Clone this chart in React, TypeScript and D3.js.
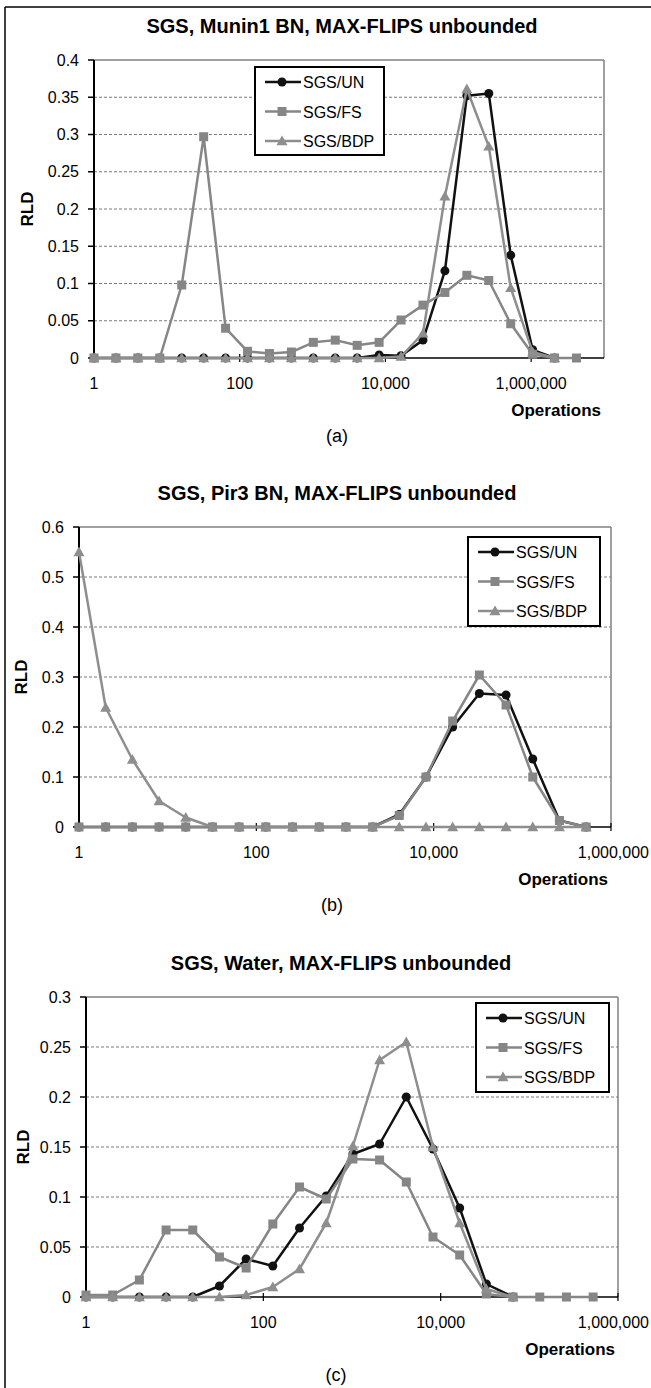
import React from 'react'
import * as d3 from 'd3'

// operation counts (x categories, log scale)
const ops = [1, 2, 4, 8, 16, 32, 64, 128, 256, 512, 1024, 2048, 4096, 8192, 16384, 32768, 65536, 131072, 262144, 524288, 1048576, 2097152, 4194304]
const seriesNames = ['SGS/UN', 'SGS/FS', 'SGS/BDP']
const xTickValues = [1, 100, 10000, 1000000]

// (a) Munin1
const muninUN = [0, 0, 0, 0, 0, 0, 0, 0, 0, 0, 0, 0, 0, 0.004, 0.003, 0.024, 0.117, 0.352, 0.355, 0.138, 0.011, 0]
const muninFS = [0, 0, 0, 0, 0.098, 0.297, 0.04, 0.009, 0.006, 0.008, 0.021, 0.024, 0.017, 0.021, 0.051, 0.071, 0.088, 0.111, 0.104, 0.046, 0.005, 0, 0]
const muninBDP = [0, 0, 0, 0, 0, 0, 0, 0, 0, 0, 0, 0, 0, 0, 0.002, 0.033, 0.217, 0.361, 0.284, 0.094, 0.008, 0]

// (b) Pir3
const pirUN = [0, 0, 0, 0, 0, 0, 0, 0, 0, 0, 0, 0, 0.025, 0.1, 0.2, 0.267, 0.264, 0.136, 0.013, 0]
const pirFS = [0, 0, 0, 0, 0, 0, 0, 0, 0, 0, 0, 0, 0.023, 0.1, 0.212, 0.304, 0.244, 0.1, 0.013, 0]
const pirBDP = [0.55, 0.239, 0.135, 0.052, 0.019, 0, 0, 0, 0, 0, 0, 0, 0, 0, 0, 0, 0, 0, 0, 0]

// (c) Water
const waterUN = [0, 0, 0, 0, 0, 0.011, 0.038, 0.031, 0.069, 0.101, 0.143, 0.153, 0.2, 0.148, 0.089, 0.013, 0]
const waterFS = [0.002, 0.002, 0.017, 0.067, 0.067, 0.04, 0.029, 0.073, 0.11, 0.098, 0.138, 0.137, 0.115, 0.06, 0.042, 0.003, 0, 0, 0, 0]
const waterBDP = [0, 0, 0, 0, 0, 0, 0.002, 0.01, 0.028, 0.074, 0.151, 0.237, 0.255, 0.15, 0.074, 0.008, 0]

const FONT = '"Liberation Sans", Arial, Helvetica, sans-serif'
const colors = ['#111111', '#868686', '#8e8e8e']
const markers = ['circle', 'square', 'triangle']
const W = 651

function Marker({ kind, x, y, color }: { kind: string; x: number; y: number; color: string }) {
  if (kind === 'circle') return <circle cx={x} cy={y} r={4.5} fill={color} />
  if (kind === 'square') return <rect x={x - 4.5} y={y - 4.5} width={9} height={9} fill={color} />
  const s = 5.5
  return <path d={`M${x},${y - s}L${x + s},${y + s * 0.75}L${x - s},${y + s * 0.75}Z`} fill={color} />
}

type PanelProps = {
  title: string
  caption: string
  data: number[][]
  xMax: number
  yMax: number
  yStep: number
  plot: { l: number; r: number; t: number; b: number }
  titleX: number
  legend: { x: number; y: number; w: number; h: number }
  rldX: number
}

function Panel({ title, caption, data, xMax, yMax, yStep, plot, titleX, legend, rldX }: PanelProps) {
  const x = d3.scaleLog().domain([1, xMax]).range([plot.l, plot.r])
  const y = d3.scaleLinear().domain([0, yMax]).range([plot.b, plot.t])
  const yTicks = d3.range(0, yMax + yStep / 2, yStep)
  const fmtY = (v: number) => String(+v.toFixed(2))
  const fmtX = d3.format(',')
  const line = d3.line<number>().x((_, i) => x(ops[i])).y(d => y(d))

  return (
    <g>
      <text x={titleX} y={plot.t - 27} textAnchor="middle" fontFamily={FONT} fontWeight="bold" fontSize={20}>{title}</text>
      {/* grid */}
      {yTicks.slice(1, -1).map(v => (
        <line key={v} x1={plot.l} x2={plot.r} y1={y(v)} y2={y(v)} stroke="#7a7a7a" strokeWidth={1} strokeDasharray="3,2" />
      ))}
      <line x1={plot.l} x2={plot.r} y1={plot.t} y2={plot.t} stroke="#808080" strokeWidth={1.5} />
      <line x1={plot.r} x2={plot.r} y1={plot.t} y2={plot.b} stroke="#808080" strokeWidth={1.5} />
      {/* y axis */}
      <line x1={plot.l} x2={plot.l} y1={plot.t} y2={plot.b} stroke="#000" strokeWidth={2} />
      {yTicks.map(v => (
        <g key={v}>
          <line x1={plot.l - 6} x2={plot.l} y1={y(v)} y2={y(v)} stroke="#000" strokeWidth={1.5} />
          <text x={plot.l - 15} y={y(v) + 5.5} textAnchor="end" fontFamily={FONT} fontSize={16}>{fmtY(v)}</text>
        </g>
      ))}
      {/* x axis */}
      <line x1={plot.l} x2={plot.r} y1={plot.b} y2={plot.b} stroke="#000" strokeWidth={1.5} />
      {xTickValues.filter(v => v <= xMax).map(v => {
        const label = fmtX(v)
        const half = label.length * 4.6
        const atEdge = x(v) + half > W - 2
        return (
          <g key={v}>
            <line x1={x(v)} x2={x(v)} y1={plot.b - 4} y2={plot.b + 4} stroke="#000" strokeWidth={1.2} />
            <text x={atEdge ? W - 2 : x(v)} y={plot.b + 31} textAnchor={atEdge ? 'end' : 'middle'} fontFamily={FONT} fontSize={16}>{label}</text>
          </g>
        )
      })}
      <text x={plot.r - 3} y={plot.b + 58} textAnchor="end" fontFamily={FONT} fontWeight="bold" fontSize={17}>Operations</text>
      <text x={titleX - 5} y={plot.b + 84} textAnchor="middle" fontFamily={FONT} fontSize={18}>{caption}</text>
      <text transform={`translate(${rldX},${(plot.t + plot.b) / 2}) rotate(-90)`} textAnchor="middle" fontFamily={FONT} fontWeight="bold" fontSize={17}>RLD</text>
      {/* series */}
      {data.map((vals, si) => (
        <g key={si}>
          <path d={line(vals) || ''} fill="none" stroke={colors[si]} strokeWidth={2.5} strokeLinejoin="round" />
          {vals.map((v, i) => (
            <Marker key={i} kind={markers[si]} x={x(ops[i])} y={y(v)} color={colors[si]} />
          ))}
        </g>
      ))}
      {/* legend */}
      <rect x={legend.x} y={legend.y} width={legend.w} height={legend.h} fill="#fff" stroke="#000" strokeWidth={2} />
      {seriesNames.map((name, i) => {
        const cy = legend.y + 15 + i * 29.5
        return (
          <g key={name}>
            <line x1={legend.x + 10} x2={legend.x + 46} y1={cy} y2={cy} stroke={colors[i]} strokeWidth={2.5} />
            <Marker kind={markers[i]} x={legend.x + 27} y={cy} color={colors[i]} />
            <text x={legend.x + 48} y={cy + 6} fontFamily={FONT} fontSize={16}>{name}</text>
          </g>
        )
      })}
    </g>
  )
}

export default function App() {
  return (
    <svg width={651} height={1388} style={{ position: 'absolute', left: 0, top: 0, background: '#fff' }}>
      <rect x={0} y={0} width={651} height={1388} fill="#fff" />
      <line x1={5} x2={651} y1={7} y2={7} stroke="#000" strokeWidth={1.5} />
      <line x1={5} x2={5} y1={7} y2={1388} stroke="#000" strokeWidth={1.5} />
      <Panel
        title="SGS, Munin1 BN, MAX-FLIPS unbounded"
        caption="(a)"
        data={[muninUN, muninFS, muninBDP]}
        xMax={1e7}
        yMax={0.4}
        yStep={0.05}
        plot={{ l: 94, r: 604, t: 60, b: 358 }}
        titleX={342}
        legend={{ x: 255, y: 67, w: 129, h: 88 }}
        rldX={33}
      />
      <Panel
        title="SGS, Pir3 BN, MAX-FLIPS unbounded"
        caption="(b)"
        data={[pirUN, pirFS, pirBDP]}
        xMax={1e6}
        yMax={0.6}
        yStep={0.1}
        plot={{ l: 79, r: 611, t: 527, b: 827 }}
        titleX={337}
        legend={{ x: 468, y: 537, w: 132, h: 89 }}
        rldX={27}
      />
      <Panel
        title="SGS, Water, MAX-FLIPS unbounded"
        caption="(c)"
        data={[waterUN, waterFS, waterBDP]}
        xMax={1e6}
        yMax={0.3}
        yStep={0.05}
        plot={{ l: 86, r: 618, t: 997, b: 1297 }}
        titleX={341}
        legend={{ x: 476, y: 1003, w: 133, h: 89 }}
        rldX={29}
      />
    </svg>
  )
}
